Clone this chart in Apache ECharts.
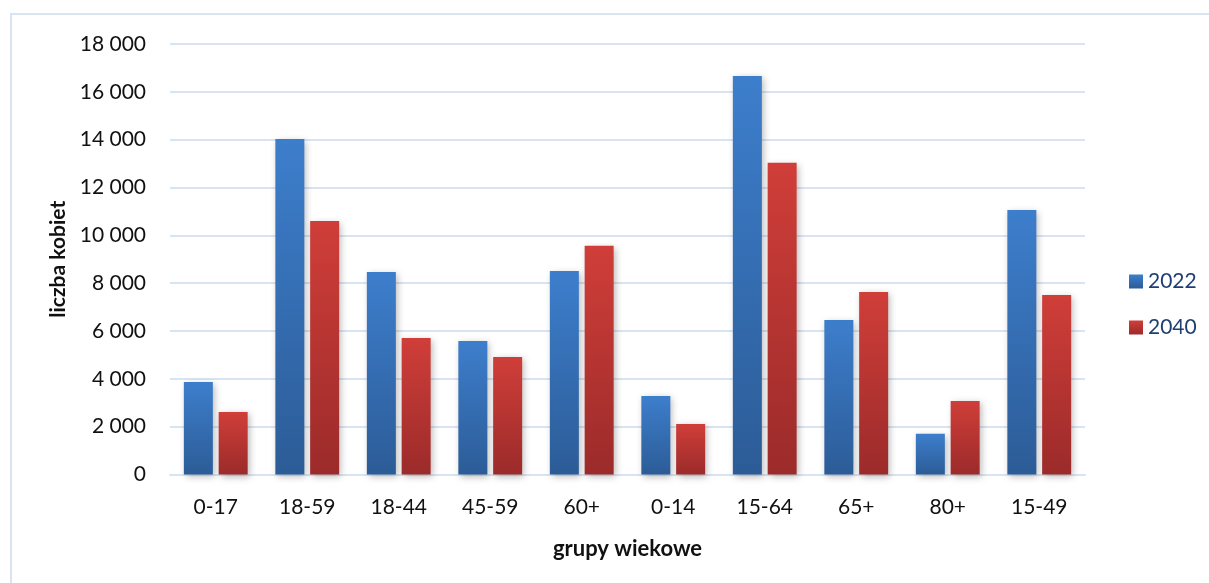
<!DOCTYPE html>
<html>
<head>
<meta charset="utf-8">
<style>
  html, body { margin: 0; padding: 0; background: #ffffff; }
  #frame {
    position: absolute; left: 10px; top: 13px; width: 1220px; height: 600px;
    border: 2px solid #d9e4f2; box-sizing: border-box;
  }
  #chart { position: absolute; left: 0; top: 0; width: 1209px; height: 583px; }
</style>
<script src="https://cdn.jsdelivr.net/npm/echarts@6/dist/echarts.min.js"></script>
</head>
<body>
<div id="frame"></div>
<div id="chart"></div>
<script>
// Age groups and female population counts for two years
const categories = ['0-17', '18-59', '18-44', '45-59', '60+', '0-14', '15-64', '65+', '80+', '15-49'];
const values2022 = [3870, 14030, 8470, 5580, 8510, 3280, 16660, 6460, 1700, 11060];
const values2040 = [2610, 10600, 5710, 4910, 9560, 2110, 13030, 7630, 3070, 7510];
const yTicks = [0, 2000, 4000, 6000, 8000, 10000, 12000, 14000, 16000, 18000];

const FONT = 'Lato, "Open Sans", sans-serif';

function vGrad(top, bottom) {
  return new echarts.graphic.LinearGradient(0, 0, 0, 1, [
    { offset: 0, color: top },
    { offset: 1, color: bottom }
  ]);
}

const blue = vGrad('#3d7ecc', '#2c5c97');
const red = vGrad('#d03e39', '#9b2b2a');

const fmt = v => String(v).replace(/\B(?=(\d{3})+(?!\d))/g, ' ');

const chart = echarts.init(document.getElementById('chart'));
chart.setOption({
  animation: false,
  textStyle: { fontFamily: FONT },
  grid: { left: 170, right: 124, top: 44, bottom: 108.5 },
  legend: {
    orient: 'vertical',
    left: 1124,
    top: 266,
    itemWidth: 14,
    itemHeight: 14,
    itemGap: 25,
    icon: 'rect',
    textStyle: { fontFamily: FONT, fontSize: 21, color: '#1f3f73', padding: [0, 0, 0, 0] },
    data: ['2022', '2040']
  },
  xAxis: {
    type: 'category',
    data: categories,
    name: 'grupy wiekowe',
    nameLocation: 'middle',
    nameGap: 63,
    nameTextStyle: { fontFamily: FONT, fontSize: 22, fontWeight: 'bold', color: '#111' },
    axisLine: { show: true, lineStyle: { color: '#d9e4f2', width: 2 } },
    axisTick: { show: false },
    axisLabel: { margin: 22, fontSize: 21, color: '#111', fontFamily: FONT }
  },
  yAxis: {
    type: 'value',
    min: yTicks[0],
    max: yTicks[yTicks.length - 1],
    interval: yTicks[1] - yTicks[0],
    name: 'liczba kobiet',
    nameLocation: 'middle',
    nameGap: 100,
    nameRotate: 90,
    nameTextStyle: { fontFamily: FONT, fontSize: 21, fontWeight: 'bold', color: '#111' },
    axisLine: { show: false },
    axisTick: { show: false },
    axisLabel: { margin: 24, fontSize: 21, color: '#111', fontFamily: FONT, formatter: fmt },
    splitLine: { lineStyle: { color: '#d9e4f2', width: 2 } }
  },
  series: [
    {
      name: '2022',
      type: 'bar',
      data: values2022,
      barWidth: 29,
      barGap: '20%',
      itemStyle: {
        color: blue,
        shadowColor: 'rgba(0,0,0,0.28)',
        shadowBlur: 7,
        shadowOffsetX: 2,
        shadowOffsetY: 2
      }
    },
    {
      name: '2040',
      type: 'bar',
      data: values2040,
      barWidth: 29,
      barGap: '20%',
      itemStyle: {
        color: red,
        shadowColor: 'rgba(0,0,0,0.28)',
        shadowBlur: 7,
        shadowOffsetX: 2,
        shadowOffsetY: 2
      }
    }
  ]
});
</script>
</body>
</html>
